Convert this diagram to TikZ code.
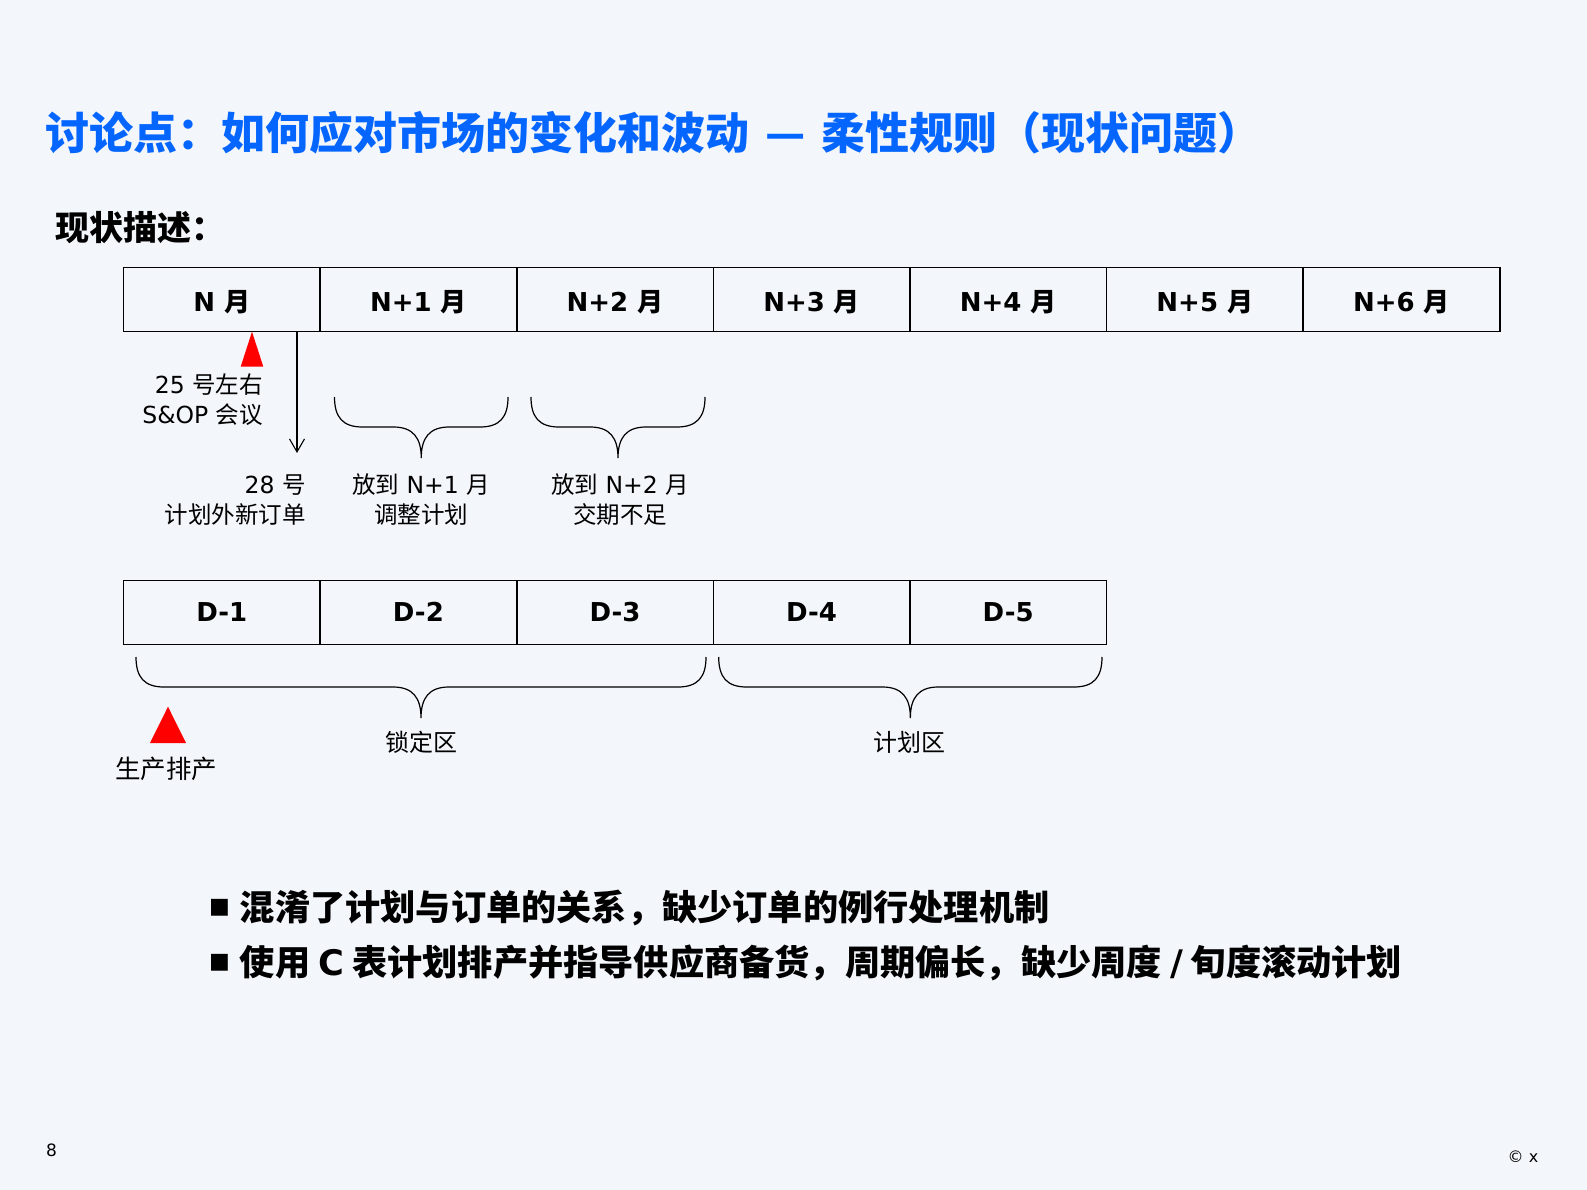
\documentclass[tikz,border=0pt]{standalone}
\usepackage{fontspec}
\setmainfont{DejaVu Sans}
\newfontfamily\cjk{Noto Sans CJK SC}
\usepackage{tikz}
\usetikzlibrary{arrows.meta, positioning}
\definecolor{slidebg}{RGB}{243,246,250}
\definecolor{titleblue}{RGB}{5,102,255}
\definecolor{flagred}{RGB}{255,0,0}

% curly brace opening downwards: left x, right x, top y
\newcommand{\curlybrace}[3]{%
  \pgfmathsetmacro{\braceMid}{(#1+#2)/2}
  \draw[bracestroke] (#1,#3) .. controls +(0,20) and +(-20,0) .. (#1+28,#3+30)
    -- (\braceMid-28,#3+30) .. controls +(20,0) and +(0,-20) .. (\braceMid,#3+61)
    .. controls +(0,-20) and +(-20,0) .. (\braceMid+28,#3+30)
    -- (#2-28,#3+30) .. controls +(20,0) and +(0,20) .. (#2,#3);}
% square bullet
\newcommand{\sqbullet}{\raisebox{7pt}{\rmfamily\fontsize{22}{22}\selectfont ■}\hspace{10pt}}

\begin{document}
\begin{tikzpicture}[
  x=1pt, y=-1pt,
  >={Straight Barb[length=13pt,width=15pt]},
  cell/.style={draw, line width=1.6pt, minimum width=196.6pt, minimum height=64pt, inner sep=0pt, outer sep=0pt, text height=19pt, text depth=0pt, font=\bfseries\fontsize{26}{30}\selectfont},
  month/.style={cell, text height=23pt},
  note/.style={align=center, inner sep=0pt, font=\fontsize{23.5}{30}\selectfont},
  zone/.style={font=\cjk\fontsize{24}{28}\selectfont},
  bracestroke/.style={line width=1.2pt},
  bullet/.style={anchor=base west, inner sep=0pt, font=\cjk\bfseries\fontsize{35.2}{40}\selectfont}
]

% Slide
\fill[slidebg] (0,0) rectangle (1587,1190);

% Headings
\node[anchor=base west, inner sep=0pt, text=titleblue, font=\cjk\bfseries\fontsize{44}{50}\selectfont] (title) at (45.5,150) {讨论点：如何应对市场的变化和波动\hspace{0.36em}—\hspace{0.36em}柔性规则（现状问题）};
\node[anchor=base west, inner sep=0pt, font=\cjk\bfseries\fontsize{34}{40}\selectfont] (sub) at (55,240.6) {现状描述：};

% Months
\node[month] (m0) at (221.8,299.5) {N {\cjk 月}};
\node[month, right=0pt of m0] (m1) {N+1 {\cjk 月}};
\node[month, right=0pt of m1] (m2) {N+2 {\cjk 月}};
\node[month, right=0pt of m2] (m3) {N+3 {\cjk 月}};
\node[month, right=0pt of m3] (m4) {N+4 {\cjk 月}};
\node[month, right=0pt of m4] (m5) {N+5 {\cjk 月}};
\node[month, right=0pt of m5] (m6) {N+6 {\cjk 月}};

% S&OP meeting and late orders
\fill[flagred] (252,331.7) -- (263.3,366.7) -- (240.7,366.7) -- cycle;
\node[note, anchor=east, align=right] (sop) at (263,400) {25 {\cjk 号左右}\\S\&OP {\cjk 会议}};
\coordinate (cut28) at (297,331.7);
\coordinate (due28) at (297,453);
\draw[->, line width=1.1pt] (cut28) -- (due28);
\node[note, anchor=east, align=right] (ord28) at (305.7,500) {28 {\cjk 号}\\{\cjk 计划外新订单}};

\curlybrace{334.5}{508}{397}
\curlybrace{531}{705}{397}
\node[note] (adjust) at (421,500) {{\cjk 放到} N+1 {\cjk 月}\\{\cjk 调整计划}};
\node[note] (short) at (620,500) {{\cjk 放到} N+2 {\cjk 月}\\{\cjk 交期不足}};

% Days
\node[cell] (d1) at (221.8,612.4) {D-1};
\node[cell, right=0pt of d1] (d2) {D-2};
\node[cell, right=0pt of d2] (d3) {D-3};
\node[cell, right=0pt of d3] (d4) {D-4};
\node[cell, right=0pt of d4] (d5) {D-5};

\curlybrace{136}{706}{657}
\curlybrace{718.7}{1102}{657}
\node[zone] (lock) at (421.8,742.5) {锁定区};
\node[zone] (plan) at (909,742.5) {计划区};

\fill[flagred] (168,706.7) -- (186,743) -- (150,743) -- cycle;
\node[zone, font=\cjk\fontsize{25.5}{28}\selectfont] (prod) at (166,769) {生产排产};

% Issues
\node[bullet] (issue1) at (209,920.6) {\sqbullet 混淆了计划与订单的关系，缺少订单的例行处理机制};
\node[bullet] (issue2) at (209,975.6) {\sqbullet 使用 {\rmfamily C} 表计划排产并指导供应商备货，周期偏长，缺少周度 {\rmfamily /} 旬度滚动计划};

% Footer
\node[font=\fontsize{17}{20}\selectfont] (pageno) at (51.5,1150) {8};
\node[font=\fontsize{16}{20}\selectfont] (copy) at (1523,1157) {© x};

\end{tikzpicture}
\end{document}
